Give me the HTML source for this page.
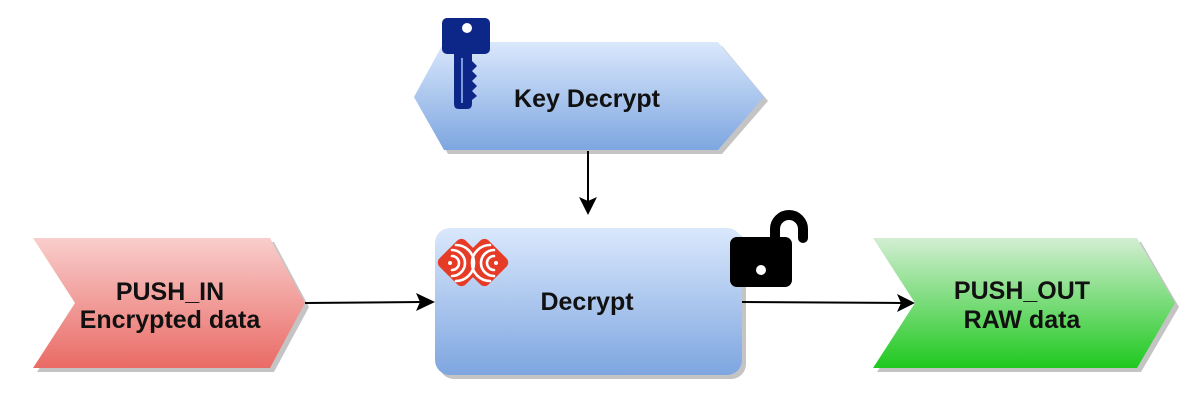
<!DOCTYPE html>
<html>
<head>
<meta charset="utf-8">
<style>
  html,body{margin:0;padding:0;background:#fff;}
  svg{display:block;}
  text{font-family:"Liberation Sans",Arial,sans-serif;font-weight:bold;fill:#111;}
</style>
</head>
<body>
<svg width="1200" height="401" viewBox="0 0 1200 401" xmlns="http://www.w3.org/2000/svg">
  <defs>
    <linearGradient id="gb" x1="0" y1="0" x2="0" y2="1">
      <stop offset="0" stop-color="#dae8fc"/>
      <stop offset="1" stop-color="#7ea6e0"/>
    </linearGradient>
    <linearGradient id="gr" x1="0" y1="0" x2="0" y2="1">
      <stop offset="0" stop-color="#f8cecc"/>
      <stop offset="1" stop-color="#ea6b66"/>
    </linearGradient>
    <linearGradient id="gg" x1="0" y1="0" x2="0" y2="1">
      <stop offset="0" stop-color="#d3eed3"/>
      <stop offset="1" stop-color="#1fc91f"/>
    </linearGradient>
  </defs>

  <!-- Key Decrypt hexagon -->
  <polygon points="418,101 448,46 722,46 768,101 722,154 448,154" fill="#c4c4c4"/>
  <polygon points="414,97 444,42 718,42 764,97 718,150 444,150" fill="url(#gb)"/>
  <text x="587" y="107" font-size="25" text-anchor="middle">Key Decrypt</text>

  <!-- Key icon -->
  <g fill="#0c2788">
    <rect x="442" y="18" width="48" height="36" rx="5"/>
    <path d="M454,50 L454,104 Q454,109 459,109 L467,109 Q472,109 472,104 L472,100 L477,96 L472,91 L477,86 L472,81 L477,76 L472,71 L477,66 L472,61 L472,50 Z"/>
  </g>
  <circle cx="467" cy="28" r="5" fill="#fff"/>
  <line x1="462" y1="58" x2="462" y2="103" stroke="#7b9be0" stroke-width="2"/>

  <!-- Down arrow -->
  <line x1="588" y1="151" x2="588" y2="202" stroke="#000" stroke-width="2"/>
  <path d="M588,215 L579,197 L588,201 L597,197 Z" fill="#000"/>

  <!-- PUSH_IN -->
  <polygon points="37,242 274,242 309,307 274,372 37,372 79,307" fill="#c4c4c4"/>
  <polygon points="33,238 270,238 305,303 270,368 33,368 75,303" fill="url(#gr)"/>
  <text x="170" y="300" font-size="25" text-anchor="middle">PUSH_IN</text>
  <text x="170" y="328" font-size="25" text-anchor="middle">Encrypted data</text>

  <!-- Left arrow -->
  <line x1="305" y1="303" x2="422" y2="302" stroke="#000" stroke-width="2"/>
  <path d="M435,302 L416,293 L420,302 L416,311 Z" fill="#000"/>

  <!-- Decrypt box -->
  <rect x="439" y="232" width="307" height="147" rx="15" fill="#c4c4c4"/>
  <rect x="435" y="228" width="307" height="147" rx="15" fill="url(#gb)"/>
  <text x="587" y="310" font-size="25" text-anchor="middle">Decrypt</text>

  <!-- Red logo -->
  <g>
    <rect x="443" y="244" width="37" height="37" rx="6" transform="rotate(45 461.5 262.5)" fill="#e63b26"/>
    <rect x="466" y="244" width="37" height="37" rx="6" transform="rotate(45 484.5 262.5)" fill="#e63b26"/>
    <g fill="none" stroke="#fff" stroke-width="2.6" stroke-linecap="round">
      <path d="M452,256 A7,7 0 0 1 452,270"/>
      <path d="M452,250 A13,13 0 0 1 452,276"/>
      <path d="M456,245 A18,18 0 0 1 456,281"/>
      <circle cx="450" cy="263" r="2" fill="#fff" stroke="none"/>
      <path d="M494,256 A7,7 0 0 0 494,270"/>
      <path d="M494,250 A13,13 0 0 0 494,276"/>
      <path d="M490,245 A18,18 0 0 0 490,281"/>
      <circle cx="496" cy="263" r="2" fill="#fff" stroke="none"/>
    </g>
  </g>

  <!-- Lock icon -->
  <path d="M775,240 L775,229 A14,14 0 0 1 803,229 L803,238" fill="none" stroke="#000" stroke-width="10" stroke-linecap="round"/>
  <rect x="730" y="237" width="62" height="50" rx="7" fill="#000"/>
  <circle cx="761" cy="270" r="5" fill="#fff"/>

  <!-- Right arrow -->
  <line x1="742" y1="302" x2="902" y2="303" stroke="#000" stroke-width="2"/>
  <path d="M915,303 L897,294 L901,303 L897,312 Z" fill="#000"/>

  <!-- PUSH_OUT -->
  <polygon points="877,242 1141,242 1179,307 1141,372 877,372 919,307" fill="#c4c4c4"/>
  <polygon points="873,238 1137,238 1175,303 1137,368 873,368 915,303" fill="url(#gg)"/>
  <text x="1022" y="299" font-size="25" text-anchor="middle">PUSH_OUT</text>
  <text x="1022" y="328" font-size="25" text-anchor="middle">RAW data</text>
</svg>
</body>
</html>
